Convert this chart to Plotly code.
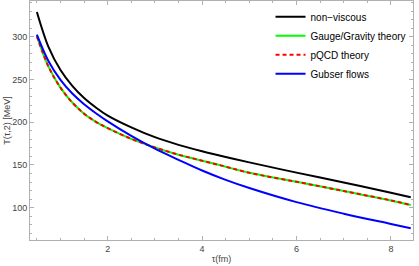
import plotly.graph_objects as go

tau = [0.5, 0.75, 1.0, 1.25, 1.5, 1.75, 2.0, 2.5, 3.0, 3.5, 4.0, 4.5, 5.0, 6.0, 7.0, 8.0, 8.42]
T_nonviscous = [329, 287.5, 261, 242.5, 228.3, 217.2, 207.8, 194, 182.5, 173.5, 166, 159.3, 153, 141, 129.5, 117.5, 112.2]
T_gauge = [300.5, 264.5, 240.5, 223, 210, 200.5, 193, 180.5, 170.5, 162, 155, 148, 140.8, 130.3, 119.5, 108.5, 103.2]
T_pqcd = [300.5, 264.5, 240.5, 223, 210, 200.5, 193, 180.5, 170.5, 162, 155, 148, 140.8, 130.3, 119.5, 108.5, 103.2]
T_gubser = [302.5, 271, 249.5, 233.5, 221, 210.5, 201, 184, 169, 156, 143.5, 132.5, 123, 106.5, 93, 81, 76]

names = ["non\u2212viscous", "Gauge/Gravity theory", "pQCD theory", "Gubser flows"]

fig = go.Figure()
fig.add_trace(go.Scatter(x=tau, y=T_nonviscous, mode="lines", name=names[0],
                         line=dict(color="#000000", width=2, shape="spline", smoothing=1.0)))
fig.add_trace(go.Scatter(x=tau, y=T_gauge, mode="lines", name=names[1],
                         line=dict(color="#00ff00", width=2, shape="spline", smoothing=1.0)))
fig.add_trace(go.Scatter(x=tau, y=T_pqcd, mode="lines", name=names[2],
                         line=dict(color="#ff0000", width=2, shape="spline", smoothing=1.0, dash="4px,3px")))
fig.add_trace(go.Scatter(x=tau, y=T_gubser, mode="lines", name=names[3],
                         line=dict(color="#0000ff", width=2, shape="spline", smoothing=1.0)))

axis_common = dict(
    showgrid=False, zeroline=False, showline=True, linecolor="#b0b0b0", linewidth=1,
    mirror="allticks", ticks="inside", ticklen=4, tickcolor="#b0b0b0", automargin=False,
    tickfont=dict(family="Liberation Sans, Arial", size=9, color="#444444"),
)

fig.update_layout(
    width=419, height=266,
    margin=dict(l=30, r=6, t=1, b=26),
    paper_bgcolor="white", plot_bgcolor="white",
    showlegend=True,
    legend=dict(x=0.628, y=0.995, xanchor="left", yanchor="top",
                bgcolor="rgba(0,0,0,0)", font=dict(family="Liberation Sans, Arial", size=10, color="#000000"),
                tracegroupgap=0, itemwidth=30),
    xaxis=dict(range=[0.354, 8.468], tickvals=[2, 4, 6, 8],
               minor=dict(ticks="inside", ticklen=2, tickcolor="#b0b0b0", dtick=0.5, tick0=0),
               title=dict(text="\u03c4(fm)", font=dict(family="Liberation Sans, Arial", size=9, color="#444444"), standoff=2),
               **axis_common),
    yaxis=dict(range=[62.2, 341.8], tickvals=[100, 150, 200, 250, 300],
               minor=dict(ticks="inside", ticklen=2, tickcolor="#b0b0b0", dtick=10, tick0=0),
               title=dict(text="T(\u03c4,2) [MeV]", font=dict(family="Liberation Sans, Arial", size=9, color="#444444"), standoff=0),
               **axis_common),
)

fig.write_html("out.html", config={"displayModeBar": False},
               post_script="document.body.style.margin='0';document.body.style.overflow='hidden';")
